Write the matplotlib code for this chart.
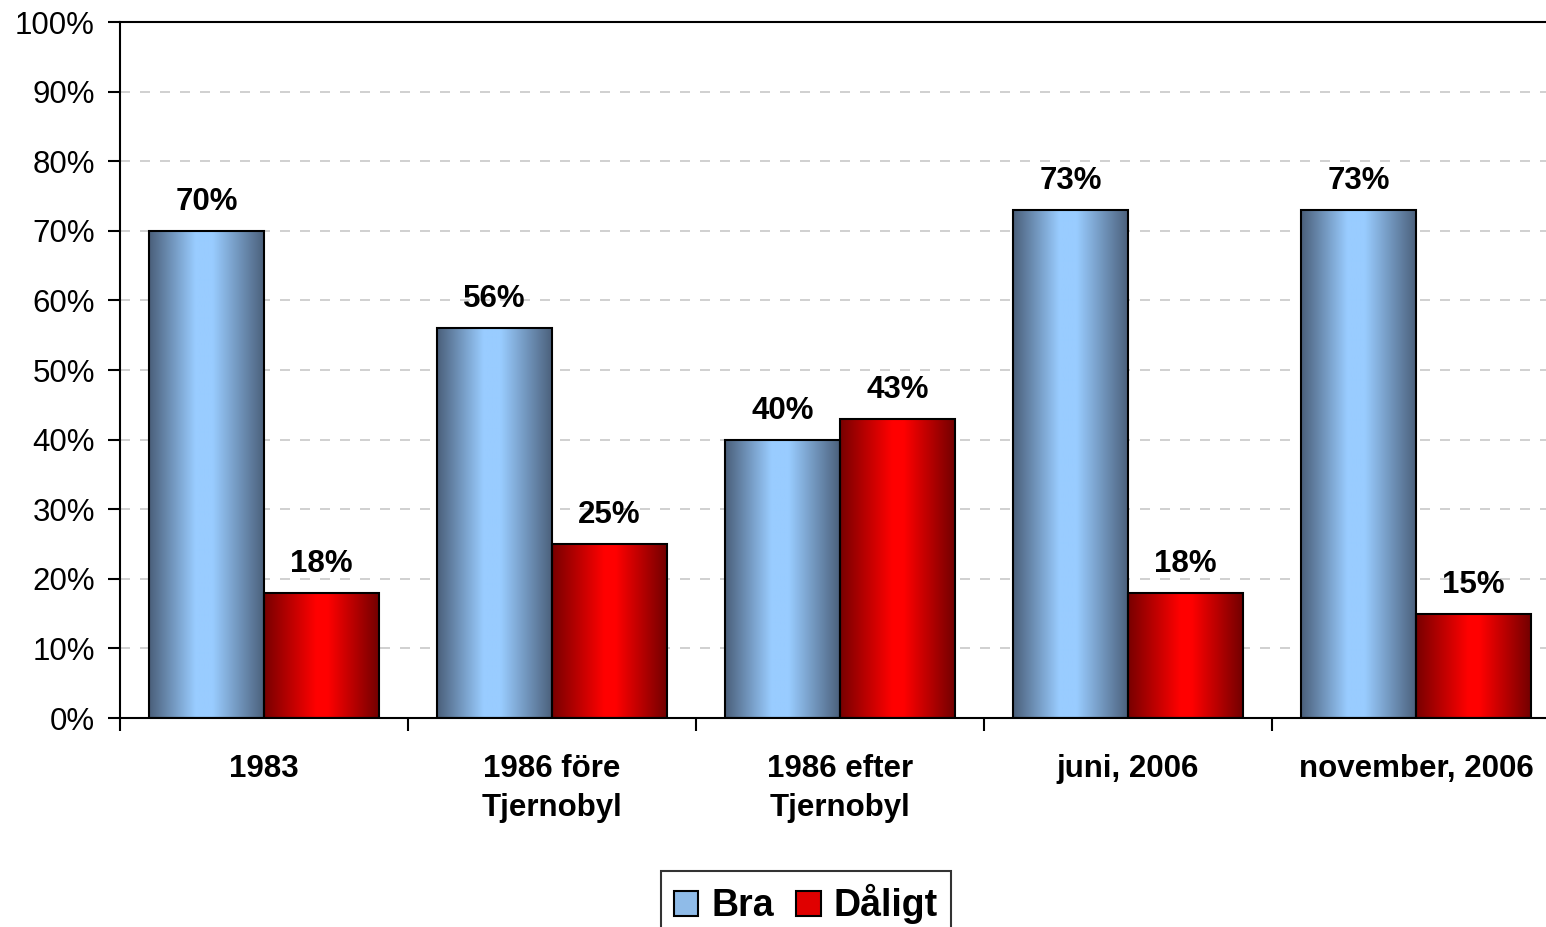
import matplotlib
matplotlib.use("Agg")
import matplotlib.pyplot as plt
import numpy as np
from matplotlib.colors import LinearSegmentedColormap
from matplotlib.patches import Patch
from matplotlib.ticker import FuncFormatter

plt.rcParams['font.family'] = ['Liberation Sans', 'DejaVu Sans']

categories = ['1983', '1986 före\nTjernobyl', '1986 efter\nTjernobyl', 'juni, 2006', 'november, 2006']
bra = [70, 56, 40, 73, 73]
daligt = [18, 25, 43, 18, 15]
series_names = ['Bra', 'Dåligt']

blue_cmap = LinearSegmentedColormap.from_list(
    'blue', [(0, '#4a5f7a'), (0.4, '#99ccff'), (0.55, '#99ccff'), (1, '#4a5f7a')])
red_cmap = LinearSegmentedColormap.from_list(
    'red', [(0, '#780000'), (0.45, '#ff0000'), (0.55, '#ff0000'), (1, '#700000')])

W, H = 1546, 927
fig = plt.figure(figsize=(W / 100, H / 100), dpi=100)
ax = fig.add_axes([120 / W, (H - 718) / H, 1440 / W, 696 / H])

x = np.arange(len(categories))
bw = 0.4
grad = np.linspace(0, 1, 256).reshape(1, -1)

for vals, offs, cmap in [(bra, -bw / 2, blue_cmap), (daligt, bw / 2, red_cmap)]:
    bars = ax.bar(x + offs, vals, bw, facecolor='none', edgecolor='black', linewidth=1.5, zorder=3)
    for b, v in zip(bars, vals):
        x0, w, h = b.get_x(), b.get_width(), b.get_height()
        ax.imshow(grad, cmap=cmap, aspect='auto', extent=[x0, x0 + w, 0, h], zorder=2,
                  interpolation='bilinear')
        ax.annotate(f'{v}%', (x0 + w / 2, h), xytext=(0, 10), textcoords='offset points',
                    ha='center', va='bottom', fontsize=22.5, fontweight='bold')

ax.set_xlim(-0.5, len(categories) - 0.5)
ax.set_ylim(0, 100)
ax.set_yticks(np.arange(0, 101, 10))
ax.yaxis.set_major_formatter(FuncFormatter(lambda v, p: f'{v:.0f}%'))
ax.tick_params(axis='y', labelsize=22.5, length=9, width=1.5, pad=9)
ax.set_xticks(x)
ax.set_xticklabels(categories, fontsize=22.5, fontweight='bold', linespacing=1.4)
ax.tick_params(axis='x', which='major', length=0, pad=26)
ax.set_xticks(np.arange(-0.5, len(categories), 1), minor=True)
ax.tick_params(axis='x', which='minor', length=9, width=1.5)

ax.grid(axis='y', linestyle=(0, (6, 6)), color='#c8c8c8', linewidth=1.2, zorder=0)
ax.set_axisbelow(True)
for s in ['left', 'bottom', 'top']:
    ax.spines[s].set_linewidth(1.5)
    ax.spines[s].set_color('black')
ax.spines['right'].set_visible(False)

handles = [Patch(facecolor='#8fbbe8', edgecolor='black', linewidth=1.5),
           Patch(facecolor='#e00000', edgecolor='black', linewidth=1.5)]
leg = fig.legend(handles, series_names, loc='upper center', ncol=2,
                 bbox_to_anchor=(806 / W, 1 - 871 / H), borderaxespad=0,
                 prop={'weight': 'bold', 'size': 27}, frameon=True, fancybox=False,
                 edgecolor='black', handlelength=0.65, handleheight=0.65, handletextpad=0.35,
                 columnspacing=0.6, borderpad=0.35)
leg.get_frame().set_linewidth(1.5)

fig.savefig('out.png', dpi=100)
